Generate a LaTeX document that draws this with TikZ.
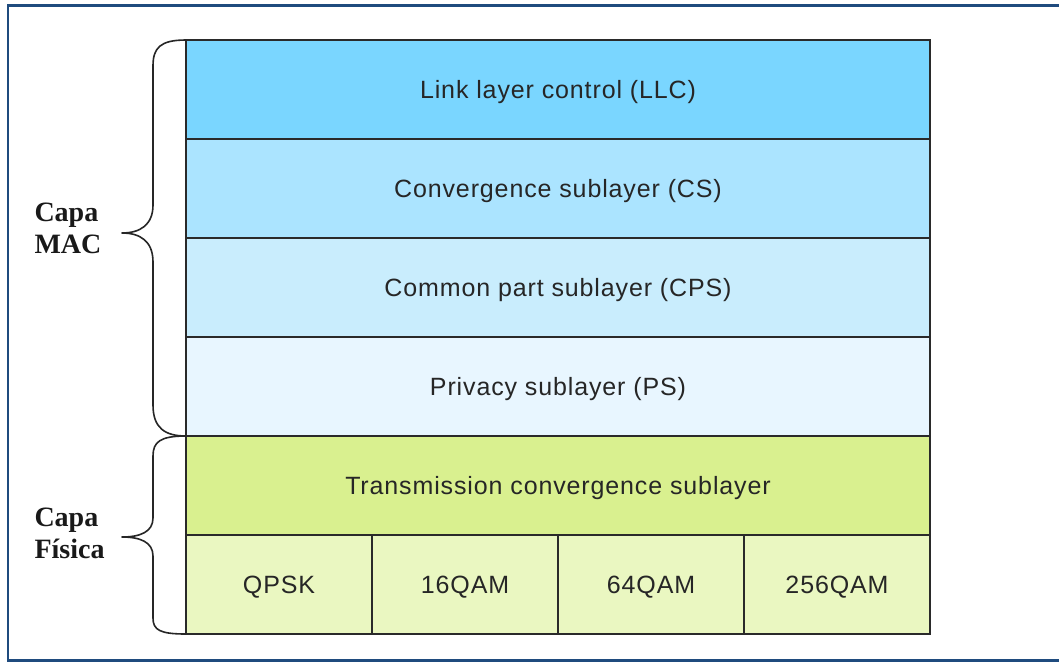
\documentclass[tikz,border=0pt]{standalone}
\usepackage{fontspec}
\setmainfont{Liberation Sans}[LetterSpace=3.5]
\newfontfamily\labelfont{Liberation Serif}
\definecolor{framec}{HTML}{1F4B7E}
\definecolor{llcc}{HTML}{7AD6FF}
\definecolor{csc}{HTML}{ABE4FF}
\definecolor{cpsc}{HTML}{C9EDFD}
\definecolor{psc}{HTML}{E8F6FF}
\definecolor{tcsc}{HTML}{D9F08F}
\definecolor{modc}{HTML}{EAF7C1}
\definecolor{linec}{HTML}{2A2A2A}
\begin{document}
\begin{tikzpicture}[x=1pt,y=-1pt,
  layer/.style={draw=linec,line width=1.6pt,minimum width=744pt,minimum height=99pt,
    inner sep=0pt,outer sep=0pt,text height=18pt,text depth=0pt,
    font=\fontsize{25}{30}\selectfont,text=black!85},
  cell/.style={layer,minimum width=186pt},
  brace/.style={draw=black!85,line width=1.6pt,line join=round},
  side/.style={font=\labelfont\bfseries\fontsize{28}{32}\selectfont,align=left,text=black!90}]
\useasboundingbox (0,0) rectangle (1059,664);
\fill[white] (0,0) rectangle (1059,664);
% outer frame
\draw[framec,line width=2.6pt] (1070,5.5) -- (8,5.5) -- (8,660.5) -- (1070,660.5);

% protocol stack
\node[layer,fill=llcc,anchor=north west] (llc) at (186,40) {Link layer control (LLC)};
\node[layer,fill=csc,anchor=north] (cs) at (llc.south) {Convergence sublayer (CS)};
\node[layer,fill=cpsc,anchor=north] (cps) at (cs.south) {Common part sublayer (CPS)};
\node[layer,fill=psc,anchor=north] (ps) at (cps.south) {Privacy sublayer (PS)};
\node[layer,fill=tcsc,anchor=north] (tcs) at (ps.south) {Transmission convergence sublayer};
\node[cell,fill=modc,anchor=north west] (qpsk) at (tcs.south west) {QPSK};
\node[cell,fill=modc,anchor=west] (q16) at (qpsk.east) {16QAM};
\node[cell,fill=modc,anchor=west] (q64) at (q16.east) {64QAM};
\node[cell,fill=modc,anchor=west] (q256) at (q64.east) {256QAM};

% braces
\coordinate (mtop) at (llc.north west);
\coordinate (mbot) at (ps.south west);
\coordinate (mtip) at (122,233);
\draw[brace] (mtop) .. controls (160,40) and (153,48) .. (153,66)
  -- (153,205) .. controls (153,225) and (140,233) .. (mtip)
  .. controls (140,233) and (153,241) .. (153,262)
  -- (153,405) .. controls (153,428) and (165,436) .. (mbot);
\coordinate (ptop) at (tcs.north west);
\coordinate (pbot) at (qpsk.south west);
\coordinate (ptip) at (122,537);
\draw[brace] (ptop) .. controls (160,436) and (153,442) .. (153,456)
  -- (153,518) .. controls (153,532) and (140,537) .. (ptip)
  .. controls (140,537) and (153,542) .. (153,556)
  -- (153,618) .. controls (153,630) and (160,634) .. (pbot);

% labels
\node[side,anchor=base west] (mac) at (31,253) {Capa\\MAC};
\node[side,anchor=base west] (phy) at (31,558) {Capa\\Física};
\end{tikzpicture}
\end{document}
